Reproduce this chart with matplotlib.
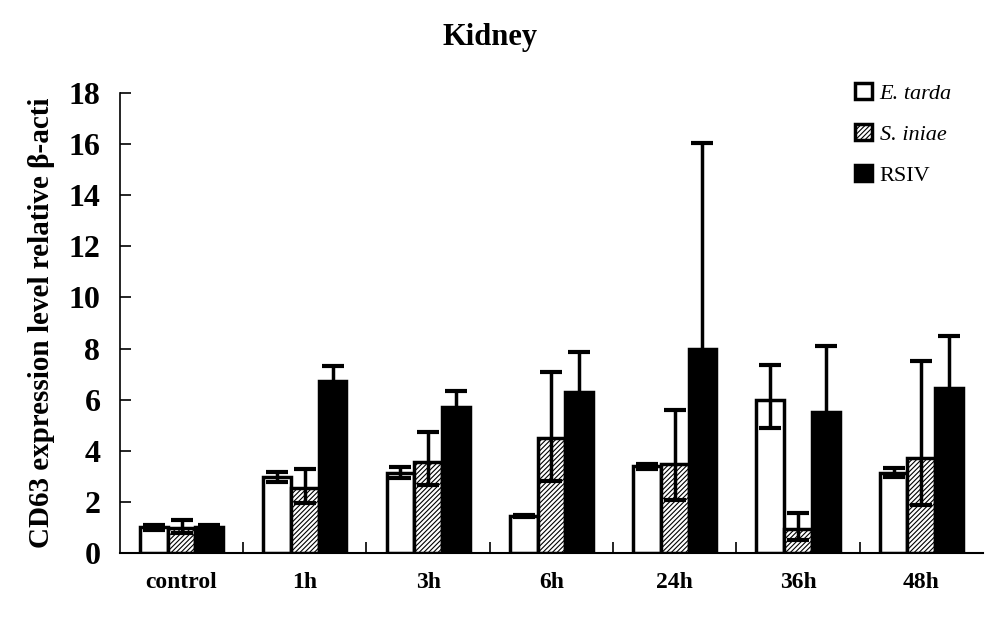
import numpy as np
import matplotlib
matplotlib.use("Agg")
import matplotlib.pyplot as plt

# values
groups = ["control", "1h", "3h", "6h", "24h", "36h", "48h"]
e_tarda = [1.0, 2.97, 3.15, 1.45, 3.4, 5.99, 3.13]
e_tarda_lo = [0.1, 0.2, 0.2, 0.05, 0.1, 1.1, 0.15]
e_tarda_hi = [0.1, 0.2, 0.2, 0.05, 0.1, 1.35, 0.18]
s_iniae = [0.98, 2.54, 3.56, 4.5, 3.48, 0.94, 3.72]
s_iniae_lo = [0.2, 0.58, 0.9, 1.7, 1.4, 0.45, 1.84]
s_iniae_hi = [0.3, 0.76, 1.17, 2.58, 2.11, 0.63, 3.79]
rsiv = [1.0, 6.73, 5.71, 6.3, 7.98, 5.52, 6.45]
rsiv_err = [0.1, 0.6, 0.63, 1.56, 8.06, 2.58, 2.04]

plt.rcParams['font.family'] = ['Liberation Serif', 'DejaVu Serif']
plt.rcParams['hatch.linewidth'] = 0.8

fig = plt.figure(figsize=(9.99, 6.25), dpi=100)
ax = fig.add_axes([0.12, 0.1152, 0.864, 0.736])

x = np.arange(len(groups))
w = 0.225
ek = dict(ecolor="black", elinewidth=2.5, capsize=8, capthick=3)
ax.bar(x - w, e_tarda, w, yerr=[e_tarda_lo, e_tarda_hi], color="white",
       edgecolor="black", linewidth=2.5, error_kw=ek, label="E. tarda", zorder=2)
ax.bar(x, s_iniae, w, yerr=[s_iniae_lo, s_iniae_hi], color="white",
       edgecolor="black", hatch="///////", linewidth=2.5, error_kw=ek,
       label="S. iniae", zorder=2)
ax.bar(x + w, rsiv, w, yerr=rsiv_err, color="black", edgecolor="black",
       linewidth=2.5, error_kw=ek, label="RSIV", zorder=2)

ax.set_xlim(-0.5, len(groups) - 0.5)
ax.set_ylim(0, 18)
ax.set_yticks(np.arange(0, 19, 2))
ax.set_xticks(x)
ax.set_xticklabels(groups, fontsize=17, fontweight="bold")
ax.set_xticks(np.arange(0.5, len(groups) - 0.5, 1), minor=True)
ax.tick_params(axis="x", which="major", length=0, pad=14)
ax.tick_params(axis="x", which="minor", direction="in", length=8, width=1.2)
ax.tick_params(axis="y", direction="in", length=8, width=1.2, labelsize=23, pad=14)
for lab in ax.get_yticklabels():
    lab.set_fontweight("bold")

ax.spines["top"].set_visible(False)
ax.spines["right"].set_visible(False)
ax.spines["left"].set_linewidth(1.2)
ax.spines["bottom"].set_linewidth(1.5)

ax.set_ylabel("CD63 expression level relative β-acti", fontsize=21,
              fontweight="bold", labelpad=10)
fig.suptitle("Kidney", x=0.49, y=0.963, fontsize=22, fontweight="bold")

leg = ax.legend(loc="upper right", bbox_to_anchor=(0.987, 1.065), frameon=False,
                fontsize=16, handlelength=0.75, handleheight=0.75,
                handletextpad=0.35, labelspacing=0.9)
for t in leg.get_texts()[:2]:
    t.set_fontstyle("italic")

fig.savefig("out.png", dpi=100)
